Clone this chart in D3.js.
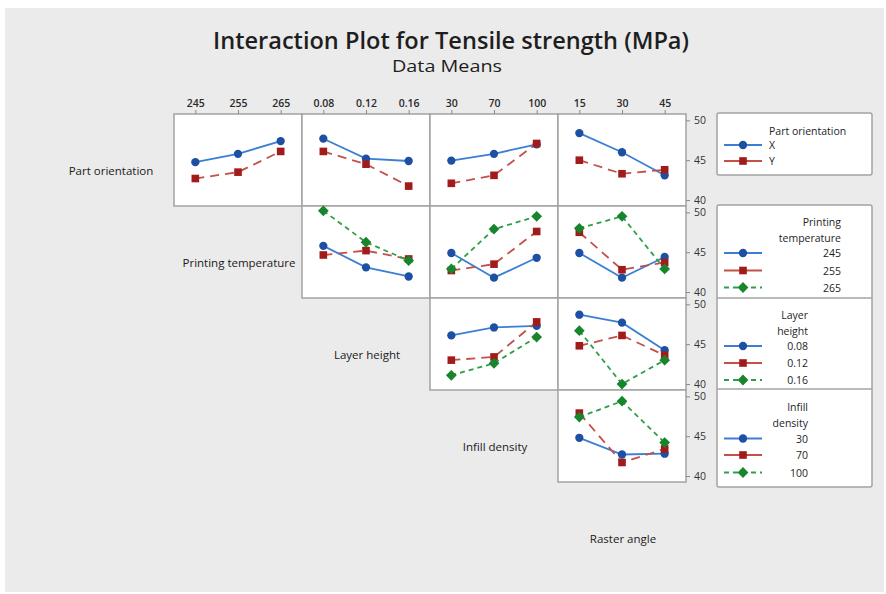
<!DOCTYPE html>
<html>
<head>
<meta charset="utf-8">
<script src="https://cdn.jsdelivr.net/npm/d3@7"></script>
<style>
  html, body { margin: 0; padding: 0; background: #ffffff; }
  svg { display: block; }
  text { font-family: "Open Sans", "Noto Sans", sans-serif; }
</style>
</head>
<body>
<svg id="chart" width="886" height="594"></svg>
<script>
// Factors, in matrix order, and their levels (also the top tick labels)
const factorNames = ["Part orientation", "Printing temperature", "Layer height", "Infill density", "Raster angle"];
const orientationLevels = ["X", "Y"];
const temperatureLevels = ["245", "255", "265"];
const layerHeightLevels = ["0.08", "0.12", "0.16"];
const infillLevels = ["30", "70", "100"];
const rasterLevels = ["15", "30", "45"];
const yTickValues = [40, 45, 50];

// Legend titles (split over lines as drawn)
const legendTitles = [["Part orientation"], ["Printing", "temperature"], ["Layer", "height"], ["Infill", "density"]];

// Tensile strength means (MPa): one array per trace level, one value per x level
const orientByTemp   = [[44.75, 45.8, 47.4], [42.7, 43.5, 46.1]];
const orientByLayer  = [[47.7, 45.2, 44.9], [46.1, 44.5, 41.75]];
const orientByInfill = [[44.95, 45.8, 47.0], [42.1, 43.1, 47.1]];
const orientByRaster = [[48.4, 46.0, 43.1], [45.0, 43.3, 43.8]];
const tempByLayer    = [[45.8, 43.1, 41.95], [44.65, 45.2, 44.15], [50.2, 46.25, 43.95]];
const tempByInfill   = [[44.9, 41.8, 44.3], [42.7, 43.5, 47.6], [42.9, 47.9, 49.5]];
const tempByRaster   = [[44.9, 41.8, 44.4], [47.5, 42.8, 43.7], [48.0, 49.5, 42.9]];
const layerByInfill  = [[46.1, 47.1, 47.3], [43.0, 43.4, 47.8], [41.1, 42.6, 45.9]];
const layerByRaster  = [[48.7, 47.7, 44.25], [44.8, 46.1, 43.6], [46.7, 40.0, 43.0]];
const infillByRaster = [[44.8, 42.7, 42.8], [47.9, 41.7, 43.4], [47.4, 49.4, 44.2]];

const levelsByFactor = [orientationLevels, temperatureLevels, layerHeightLevels, infillLevels, rasterLevels];
// panelMeans[row][col]: row = trace factor, col = x factor - 1
const panelMeans = [
  [orientByTemp, orientByLayer, orientByInfill, orientByRaster],
  [null, tempByLayer, tempByInfill, tempByRaster],
  [null, null, layerByInfill, layerByRaster],
  [null, null, null, infillByRaster]
];

// Layout
const W = 886, H = 594;
const gridLeft = 174, gridTop = 114, cellW = 128, cellH = 92;
const yDomain = [39.25, 50.8];

// Trace styles: circle, square, and a square turned 45° for the diamond
const styles = [
  { line: "#3b7fd4", mark: "#1d4fa3", dash: null, symbol: d3.symbolCircle, size: 54, rot: 0 },
  { line: "#c4504a", mark: "#a11b1b", dash: "9,6", symbol: d3.symbolSquare, size: 58, rot: 0 },
  { line: "#2f9e46", mark: "#17852c", dash: "5,4", symbol: d3.symbolSquare, size: 58, rot: 45 }
];

const svg = d3.select("#chart");

// Background
svg.append("rect").attr("x", 5).attr("y", 8).attr("width", W - 7).attr("height", H - 10)
  .attr("fill", "#ebebeb");

// Titles
svg.append("text").attr("x", 451).attr("y", 49).attr("text-anchor", "middle")
  .attr("font-size", 23).attr("font-weight", 600).attr("fill", "#1e1e1e")
  .attr("textLength", 476).attr("lengthAdjust", "spacingAndGlyphs")
  .text("Interaction Plot for Tensile strength (MPa)");
svg.append("text").attr("x", 447).attr("y", 72).attr("text-anchor", "middle")
  .attr("font-size", 17).attr("font-weight", 500).attr("fill", "#1e1e1e")
  .attr("textLength", 110).attr("lengthAdjust", "spacingAndGlyphs")
  .text("Data Means");

// Scales
const xScales = [];
for (let c = 0; c < 4; c++) {
  xScales.push(d3.scalePoint().domain(levelsByFactor[c + 1])
    .range([gridLeft + c * cellW, gridLeft + (c + 1) * cellW]).padding(0.5));
}
const yScales = [];
for (let r = 0; r < 4; r++) {
  yScales.push(d3.scaleLinear().domain(yDomain)
    .range([gridTop + (r + 1) * cellH, gridTop + r * cellH]));
}

// Panels
for (let r = 0; r < 4; r++) {
  for (let c = r; c < 4; c++) {
    const x0 = gridLeft + c * cellW, y0 = gridTop + r * cellH;
    svg.append("rect").attr("x", x0).attr("y", y0).attr("width", cellW).attr("height", cellH)
      .attr("fill", "#ffffff").attr("stroke", "#a3a3a3").attr("stroke-width", 1.5);
  }
}

// Traces
const line = d3.line();
for (let r = 0; r < 4; r++) {
  for (let c = r; c < 4; c++) {
    const means = panelMeans[r][c];
    const xs = xScales[c], ys = yScales[r];
    const xLevels = levelsByFactor[c + 1];
    const g = svg.append("g");
    means.forEach((series, k) => {
      const st = styles[k];
      const pts = series.map((v, i) => [xs(xLevels[i]), ys(v)]);
      g.append("path").attr("d", line(pts)).attr("fill", "none")
        .attr("stroke", st.line).attr("stroke-width", 1.8)
        .attr("stroke-dasharray", st.dash);
      g.selectAll(null).data(pts).enter().append("path")
        .attr("transform", d => `translate(${d[0]},${d[1]}) rotate(${st.rot})`)
        .attr("d", d3.symbol(st.symbol, st.size)())
        .attr("fill", st.mark);
    });
  }
}

// Top axes (x levels)
for (let c = 0; c < 4; c++) {
  const ax = svg.append("g").attr("transform", `translate(0,${gridTop})`)
    .call(d3.axisTop(xScales[c]).tickSize(4).tickPadding(3));
  ax.select(".domain").remove();
  ax.selectAll(".tick line").attr("stroke", "#8a8a8a");
  ax.selectAll(".tick text").attr("font-size", 10.5).attr("font-weight", 600)
    .attr("fill", "#2a2a2a").style("font-family", '"Open Sans", sans-serif');
}

// Right axes (mean scale)
for (let r = 0; r < 4; r++) {
  const ax = svg.append("g").attr("transform", `translate(${gridLeft + 4 * cellW},0)`)
    .call(d3.axisRight(yScales[r]).tickValues(yTickValues).tickSize(4).tickPadding(4));
  ax.select(".domain").remove();
  ax.selectAll(".tick line").attr("stroke", "#8a8a8a");
  ax.selectAll(".tick text").attr("font-size", 10.5).attr("fill", "#333333")
    .style("font-family", '"Open Sans", sans-serif');
}

// Factor labels on the diagonal
factorNames.forEach((name, i) => {
  svg.append("text")
    .attr("x", gridLeft + (i - 1) * cellW + cellW / 2 + 1)
    .attr("y", gridTop + i * cellH + cellH / 2 + 15)
    .attr("text-anchor", "middle").attr("font-size", 11.5).attr("font-weight", 500)
    .attr("fill", "#1a1a1a").text(name);
});

// Legends
const legLeft = 717, legRight = 872;
svg.append("rect").attr("x", legLeft).attr("y", 113).attr("width", legRight - legLeft).attr("height", 62)
  .attr("fill", "#ffffff").attr("stroke", "#a3a3a3").attr("stroke-width", 1.5).attr("rx", 2);
svg.append("rect").attr("x", legLeft).attr("y", 205).attr("width", legRight - legLeft).attr("height", 282)
  .attr("fill", "#ffffff").attr("stroke", "#a3a3a3").attr("stroke-width", 1.5).attr("rx", 2);
[298, 389].forEach(y => svg.append("line").attr("x1", legLeft).attr("x2", legRight)
  .attr("y1", y).attr("y2", y).attr("stroke", "#a3a3a3").attr("stroke-width", 1.5));

const legendSpecs = [
  { titleY: [130.5], itemY: [145, 161], textX: 769, anchor: "start", titleAnchor: "start" },
  { titleY: [222, 238], itemY: [253, 270.5, 287.5], textX: 841, anchor: "end", titleAnchor: "end" },
  { titleY: [315, 330.5], itemY: [346, 363, 380], textX: 808, anchor: "end", titleAnchor: "end" },
  { titleY: [407, 423], itemY: [438.5, 455, 472.5], textX: 808, anchor: "end", titleAnchor: "end" }
];
legendSpecs.forEach((spec, f) => {
  legendTitles[f].forEach((t, j) => {
    svg.append("text").attr("x", spec.textX).attr("y", spec.titleY[j] + 4)
      .attr("text-anchor", spec.titleAnchor).attr("font-size", 10.5).attr("fill", "#1e1e1e").text(t);
  });
  levelsByFactor[f].forEach((lev, k) => {
    const st = styles[k], y = spec.itemY[k];
    svg.append("line").attr("x1", 724).attr("x2", 762).attr("y1", y).attr("y2", y)
      .attr("stroke", st.line).attr("stroke-width", 1.8)
      .attr("stroke-dasharray", k === 2 ? "5,4" : null);
    svg.append("path").attr("transform", `translate(743,${y}) rotate(${st.rot})`)
      .attr("d", d3.symbol(st.symbol, st.size)()).attr("fill", st.mark);
    svg.append("text").attr("x", spec.textX).attr("y", y + 4)
      .attr("text-anchor", spec.anchor).attr("font-size", 10.5).attr("fill", "#1e1e1e").text(lev);
  });
});
</script>
</body>
</html>
